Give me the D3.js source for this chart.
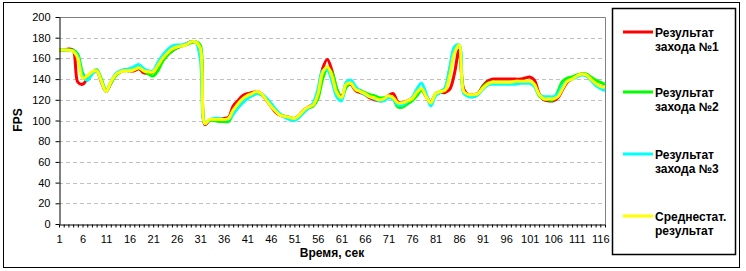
<!DOCTYPE html>
<html>
<head>
<meta charset="utf-8">
<script src="https://cdn.jsdelivr.net/npm/d3@7"></script>
<style>
	body { margin: 0; background: #fff; }
	text { font-family: "Liberation Sans", Arial, sans-serif; }
</style>
</head>
<body>
<div id="chart"></div>
<script>

// Chart data
var categories = d3.range(1, 118);
var tickLabels = [1, 6, 11, 16, 21, 26, 31, 36, 41, 46, 51, 56, 61, 66, 71, 76, 81, 86, 91, 96, 101, 106, 111, 116];
var yTicks = [0, 20, 40, 60, 80, 100, 120, 140, 160, 180, 200];

var seriesNames = ['Результат захода №1', 'Результат захода №2', 'Результат захода №3', 'Среднестат. результат'];
var seriesColours = ['#ff0000', '#00ff00', '#00ffff', '#ffff00'];

var run1 = [
	168,168,169,168,137,135,140,146,148,137,
	128,136,144,147,149,148,148,150,146,146,
	147,152,158,163,167,170,172,174,176,176,
	170,96,100,101,101,102,103,114,119,124,
	126,127,128,126,120,114,108,105,104,103,
	102,105,110,113,116,126,150,159,148,130,
	123,133,135,129,127,125,122,120,119,120,
	124,126,118,117,119,121,126,130,123,118,
	125,127,127,130,145,168,130,125,125,126,
	133,138,140,140,140,140,140,140,140,141,
	142,139,126,120,119,119,122,130,137,140,
	143,145,144,140,136,133,132
];
var run2 = [
	168,168,168,168,164,146,139,145,149,140,
	129,136,143,147,148,148,150,151,148,145,
	143,148,157,163,167,170,172,173,175,176,
	173,98,100,100,99,99,99,107,114,119,
	122,124,126,125,121,116,110,106,104,103,
	102,104,108,112,114,121,140,150,146,131,
	121,132,136,131,129,127,125,124,122,122,
	123,121,113,113,116,119,124,129,124,117,
	126,128,131,150,168,172,127,124,123,125,
	132,136,137,137,137,137,137,137,137,137,
	137,134,124,121,120,120,128,138,141,142,
	144,145,145,142,139,137,135
];
var run3 = [
	168,168,168,167,162,143,139,145,148,138,
	128,137,145,148,149,150,152,154,150,148,
	148,156,163,168,172,173,173,174,176,176,
	160,97,101,102,102,101,101,106,112,117,
	121,124,126,126,122,117,111,106,103,101,
	100,103,108,112,117,130,148,149,138,123,
	119,137,139,133,128,125,123,121,119,119,
	122,121,115,115,118,122,130,136,126,114,
	124,127,131,150,171,173,126,123,123,125,
	130,134,135,135,135,135,135,135,136,136,
	136,133,125,123,123,123,126,134,138,140,
	142,144,143,139,134,131,129
];
var average = [
	168,168,168,167,160,141,143,147,148,138,
	128,137,144,147,148,148,149,151,148,147,
	147,153,160,165,169,171,172,173,176,176,
	170,97,101,101,101,101,102,110,116,121,
	124,126,128,126,120,114,109,105,104,103,
	102,105,110,113,115,125,146,152,143,127,
	122,135,136,130,128,126,123,122,120,121,
	124,122,117,117,119,121,127,131,123,117,
	126,128,129,143,165,173,128,125,125,126,
	131,135,137,137,137,137,137,138,138,138,
	138,135,125,121,121,121,123,131,138,140,
	143,145,144,140,136,133,132
];
var seriesValues = [run1, run2, run3, average];

// Dimensions
var width = 746, height = 271;
var plot = { left: 59, right: 605, top: 17, bottom: 224 };

var svg = d3.select('#chart').append('svg')
	.attr('width', width)
	.attr('height', height);

// Outer border
svg.append('rect')
	.attr('x', 3.5).attr('y', 2.5)
	.attr('width', 736).attr('height', 265)
	.attr('fill', '#fff')
	.attr('stroke', '#000')
	.attr('stroke-width', 1);

// Scales
var x = d3.scaleLinear().domain([1, 117]).range([plot.left, plot.right]);
var y = d3.scaleLinear().domain([0, 200]).range([plot.bottom, plot.top]);

// Gridlines
svg.append('g').selectAll('line')
	.data(yTicks.filter(function(d) { return d > 0 && d < 200; }))
	.enter().append('line')
		.attr('x1', plot.left).attr('x2', plot.right)
		.attr('y1', function(d) { return Math.round(y(d)) + 0.5; })
		.attr('y2', function(d) { return Math.round(y(d)) + 0.5; })
		.attr('stroke', '#c0c0c0')
		.attr('stroke-dasharray', '4,3');

// Top and right plot border
svg.append('path')
	.attr('d', 'M' + plot.left + ',' + (plot.top + 0.5) + 'H' + (plot.right + 0.5) + 'V' + plot.bottom)
	.attr('fill', 'none')
	.attr('stroke', '#808080');

// Series lines (smoothed, like the Excel original)
var line = d3.line()
	.x(function(d, i) { return x(categories[i]); })
	.y(function(d) { return y(d); })
	.curve(d3.curveCatmullRom.alpha(0.5));

svg.append('g').selectAll('path')
	.data(seriesValues)
	.enter().append('path')
		.attr('d', line)
		.attr('fill', 'none')
		.attr('stroke', function(d, i) { return seriesColours[i]; })
		.attr('stroke-width', 3)
		.attr('stroke-linejoin', 'round');

// Y axis
var yAxis = svg.append('g')
	.attr('transform', 'translate(' + (plot.left + 0.5) + ',0)')
	.call(d3.axisLeft(y).tickValues(yTicks).tickSize(4).tickPadding(5).tickSizeOuter(0));

// X axis
var xAxis = svg.append('g')
	.attr('transform', 'translate(0,' + (plot.bottom + 0.5) + ')')
	.call(d3.axisBottom(x).tickValues(categories).tickSize(3).tickPadding(8).tickSizeOuter(0)
		.tickFormat(function(d) { return tickLabels.indexOf(d) >= 0 ? d : ''; }));

[yAxis, xAxis].forEach(function(a) {
	a.select('.domain').attr('stroke', '#000');
	a.selectAll('.tick line').attr('stroke', '#000');
	a.selectAll('.tick text')
		.attr('fill', '#000')
		.style('font-size', '11px');
});

// Axis titles
svg.append('text')
	.attr('transform', 'translate(22,120) rotate(-90)')
	.attr('text-anchor', 'middle')
	.style('font-size', '12px')
	.style('font-weight', 'bold')
	.text('FPS');

svg.append('text')
	.attr('x', (plot.left + plot.right) / 2)
	.attr('y', 257)
	.attr('text-anchor', 'middle')
	.style('font-size', '12px')
	.style('font-weight', 'bold')
	.text('Время, сек');

// Legend
svg.append('rect')
	.attr('x', 612.5).attr('y', 8.5)
	.attr('width', 123).attr('height', 246)
	.attr('fill', '#fff')
	.attr('stroke', '#000')
	.attr('stroke-width', 1.5);

var legendY = [32, 92, 154, 216];
var legend = svg.append('g').selectAll('g')
	.data(seriesNames)
	.enter().append('g')
		.attr('transform', function(d, i) { return 'translate(0,' + legendY[i] + ')'; });

legend.append('line')
	.attr('x1', 623).attr('x2', 653)
	.attr('stroke', function(d, i) { return seriesColours[i]; })
	.attr('stroke-width', 3);

legend.append('text')
	.attr('x', 655)
	.attr('y', 5)
	.style('font-size', '12px')
	.style('font-weight', 'bold')
	.selectAll('tspan')
	.data(function(d) { var p = d.split(' '); return [p[0], p.slice(1).join(' ')]; })
	.enter().append('tspan')
		.attr('x', 655)
		.attr('dy', function(d, i) { return i ? 14 : 0; })
		.text(function(d) { return d; });

</script>
</body>
</html>
